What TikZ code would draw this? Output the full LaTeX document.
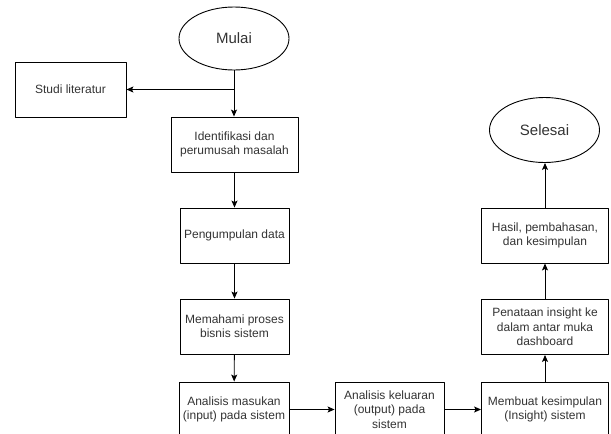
\documentclass[tikz,border=0pt]{standalone}
\usepackage{fontspec}
\setmainfont{Liberation Sans}
\usetikzlibrary{shapes.geometric,arrows.meta}
\begin{document}
\begin{tikzpicture}[x=1pt, y=-1pt, line width=0.9pt, line join=round, >={Stealth[length=7pt,width=6pt,inset=1.5pt]},
	font=\fontsize{12}{14.4}\selectfont, text=black!80,
	kotak/.style={draw, rectangle, align=center, minimum height=55pt, inner sep=2pt},
	elips/.style={draw, ellipse, minimum width=110pt, font=\fontsize{15}{18}\selectfont}]
	\useasboundingbox (0,0) rectangle (611,434);
	\clip (0,0) rectangle (611,434);
	% kolom kiri
	\node[elips, minimum height=63pt] (mulai) at (234,38.5) {Mulai};
	\node[kotak, minimum width=111pt] (studi) at (70.5,89.5) {Studi literatur};
	\node[kotak, minimum width=127pt] (ident) at (234.5,144.5) {Identifikasi dan\\perumusah masalah};
	\node[kotak, minimum width=109pt] (kumpul) at (234.5,235.5) {Pengumpulan data};
	\node[kotak, minimum width=109pt] (paham) at (234.5,326.5) {Memahami proses\\bisnis sistem};
	\node[kotak, minimum width=110pt] (masukan) at (234,409.5) {Analisis masukan\\(input) pada sistem};
	% bawah dan kanan
	\node[kotak, minimum width=109pt] (keluaran) at (389.5,409.5) {Analisis keluaran\\(output) pada\\sistem};
	\node[kotak, minimum width=127pt] (buat) at (545,409.5) {Membuat kesimpulan\\(Insight) sistem};
	\node[kotak, minimum width=127pt] (tata) at (545,327) {Penataan insight ke\\dalam antar muka\\dashboard};
	\node[kotak, minimum width=127pt] (hasil) at (545,235.5) {Hasil, pembahasan,\\dan kesimpulan};
	\node[elips, minimum height=65pt] (selesai) at (544.5,130) {Selesai};
	% panah
	\draw[->] (mulai.south) -- (mulai.south |- ident.north);
	\draw[->] (mulai.south |- studi.east) -- (studi.east);
	\draw[->] (ident.south) -- (ident.south |- kumpul.north);
	\draw[->] (kumpul) -- (paham);
	\draw[->] (paham) -- (masukan);
	\draw[->] (masukan) -- (keluaran);
	\draw[->] (keluaran) -- (buat);
	\draw[->] (buat) -- (tata);
	\draw[->] (tata) -- (hasil);
	\draw[->] (hasil.north) -- (hasil.north |- selesai.south);
\end{tikzpicture}
\end{document}
